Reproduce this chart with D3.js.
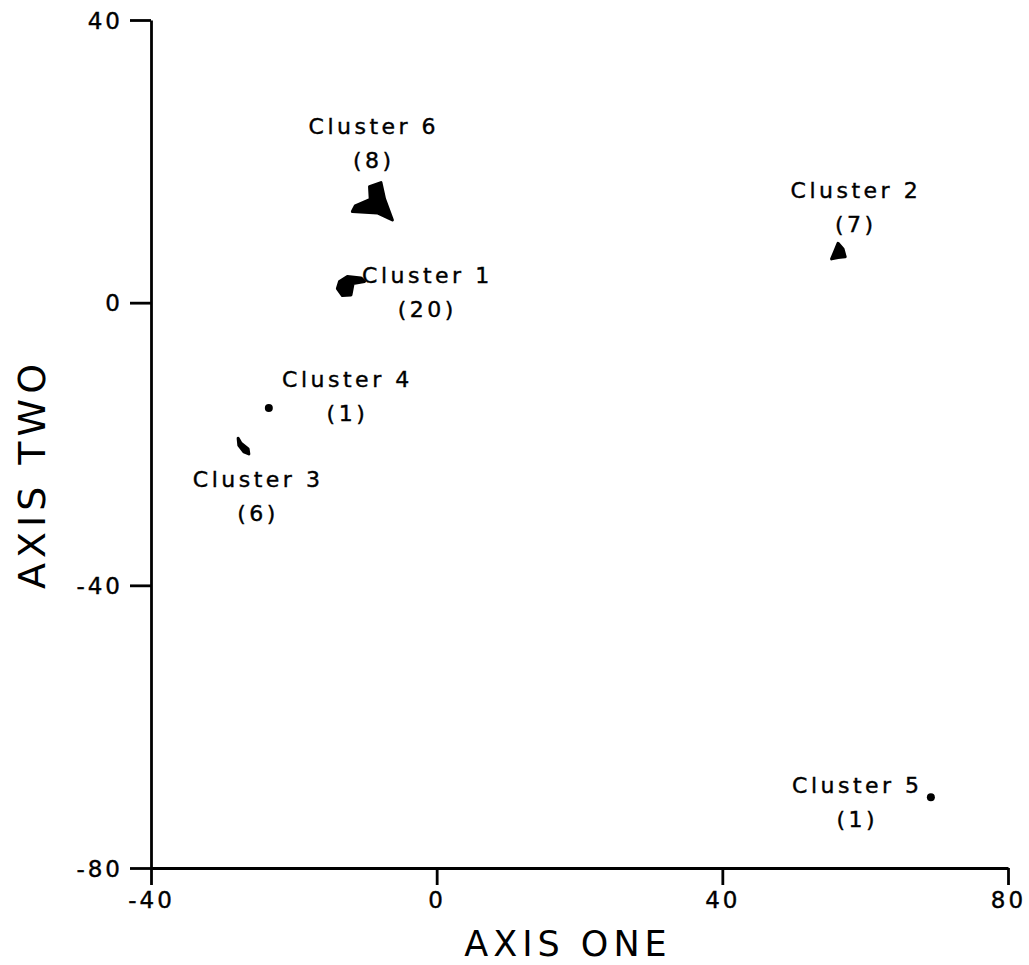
<!DOCTYPE html>
<html>
<head>
<meta charset="utf-8">
<script src="https://cdn.jsdelivr.net/npm/d3@7"></script>
<style>
	body	{ margin: 0; background: #fff; }
	svg text	{ font-family: "DejaVu Sans", sans-serif; fill: #000; }
</style>
</head>
<body>
<div id="plot"></div>
<script>

///////////////////////////////////////////////////////////////////////

let x_ticks = [ -40, 0, 40, 80 ];
let y_ticks = [ -80, -40, 0, 40 ];

let cluster_names = [ "Cluster 1", "Cluster 2", "Cluster 3", "Cluster 4", "Cluster 5", "Cluster 6" ];
let cluster_sizes = [ 20, 7, 6, 1, 1, 8 ];

// outline of each cluster in axis units (single members are points)
let cluster_shapes = [
	[ [ -13.6, 3.0 ], [ -12.5, 3.7 ], [ -10.6, 3.5 ], [ -10.1, 3.0 ], [ -11.7, 2.7 ], [ -12.0, 1.1 ], [ -13.2, 1.0 ], [ -13.9, 2.0 ] ],
	[ [ 56.2, 8.4 ], [ 56.9, 7.6 ], [ 57.2, 6.5 ], [ 56.2, 6.4 ], [ 55.3, 6.2 ], [ 55.8, 7.4 ] ],
	[ [ -27.8, -19.2 ], [ -27.4, -19.9 ], [ -26.4, -20.7 ], [ -26.3, -21.4 ], [ -27.0, -21.1 ], [ -27.7, -20.2 ] ],
	[ [ -23.5, -14.9 ] ],
	[ [ 69.2, -70.0 ] ],
	[ [ -9.4, 16.4 ], [ -7.8, 17.0 ], [ -7.3, 14.7 ], [ -6.2, 11.7 ], [ -8.3, 12.7 ], [ -11.8, 12.9 ], [ -11.4, 13.7 ], [ -9.3, 14.6 ] ]
];

// label anchor in axis units
let label_x = [ -1.3, 58.7, -25.0, -12.5, 58.9, -8.8 ];
let label_y = [ 2.8, 14.8, -26.1, -11.9, -69.4, 23.8 ];

///////////////////////////////////////////////////////////////////////

function draw_chart( plot_div_id )	{

	let width = 1029;
	let height = 965;

	let svg = d3.select( "#" + plot_div_id )
		.append( "svg" )
			.attr( "width", width )
			.attr( "height", height );

	let x = d3.scaleLinear()
		.domain( [ -40, 80 ] )
		.range( [ 151, 1008 ] );

	let y = d3.scaleLinear()
		.domain( [ -80, 40 ] )
		.range( [ 868, 20 ] );

	let x_axis = svg.append( "g" )
		.attr( "transform", "translate(0," + y( -80 ) + ")" )
		.call(
			d3.axisBottom( x )
				.tickValues( x_ticks )
				.tickFormat( d => String( d ) )
				.tickSize( 17 )
				.tickSizeOuter( 0 )
				.tickPadding( 7 )
		);

	let y_axis = svg.append( "g" )
		.attr( "transform", "translate(" + x( -40 ) + ",0)" )
		.call(
			d3.axisLeft( y )
				.tickValues( y_ticks )
				.tickFormat( d => String( d ) )
				.tickSize( 21 )
				.tickSizeOuter( 0 )
				.tickPadding( 7 )
		);

	for( let a of [ x_axis, y_axis ] )	{
		a.select( ".domain" )
			.attr( "stroke", "#000" )
			.attr( "stroke-width", 2.8 );
		a.selectAll( ".tick line" )
			.attr( "stroke", "#000" )
			.attr( "stroke-width", 2.8 );
		a.selectAll( ".tick text" )
			.attr( "font-size", 23 )
			.attr( "letter-spacing", 3 )
			.attr( "font-family", "DejaVu Sans" )
			.attr( "stroke", "#000" )
			.attr( "stroke-width", 0.4 );
	}
	y_axis.selectAll( ".tick text" )
		.attr( "dy", "0.36em" );

	// axis titles

	svg.append( "text" )
		.attr( "x", 568 )
		.attr( "y", 956 )
		.attr( "text-anchor", "middle" )
		.attr( "font-size", 35 )
		.attr( "letter-spacing", 5 )
		.text( "AXIS ONE" );

	svg.append( "text" )
		.attr( "transform", "translate(45,474) rotate(-90)" )
		.attr( "text-anchor", "middle" )
		.attr( "font-size", 38 )
		.attr( "letter-spacing", 5 )
		.text( "AXIS TWO" );

	// clusters

	let line = d3.line()
		.x( d => x( d[ 0 ] ) )
		.y( d => y( d[ 1 ] ) )
		.curve( d3.curveLinearClosed );

	let marks = svg.append( "g" );

	for( let i=0; i< cluster_shapes.length; i++ )	{

		let shape = cluster_shapes[ i ];

		if( shape.length == 1 )	{
			marks.append( "circle" )
				.attr( "cx", x( shape[ 0 ][ 0 ] ) )
				.attr( "cy", y( shape[ 0 ][ 1 ] ) )
				.attr( "r", 4 )
				.attr( "fill", "#000" );
		}
		else	{
			marks.append( "path" )
				.attr( "d", line( shape ) )
				.attr( "fill", "#000" )
				.attr( "stroke", "#000" )
				.attr( "stroke-width", 3 )
				.attr( "stroke-linejoin", "round" );
		}

		let lx = x( label_x[ i ] );
		let ly = y( label_y[ i ] );

		svg.append( "text" )
			.attr( "x", lx )
			.attr( "y", ly )
			.attr( "text-anchor", "middle" )
			.attr( "font-size", 22 )
			.attr( "letter-spacing", 3.5 )
			.attr( "stroke", "#000" )
			.attr( "stroke-width", 0.4 )
			.text( cluster_names[ i ] );

		svg.append( "text" )
			.attr( "x", lx )
			.attr( "y", ly + 34 )
			.attr( "text-anchor", "middle" )
			.attr( "font-size", 22 )
			.attr( "letter-spacing", 3.5 )
			.attr( "stroke", "#000" )
			.attr( "stroke-width", 0.4 )
			.text( "(" + cluster_sizes[ i ] + ")" );
	}
}

draw_chart( "plot" );

</script>
</body>
</html>
